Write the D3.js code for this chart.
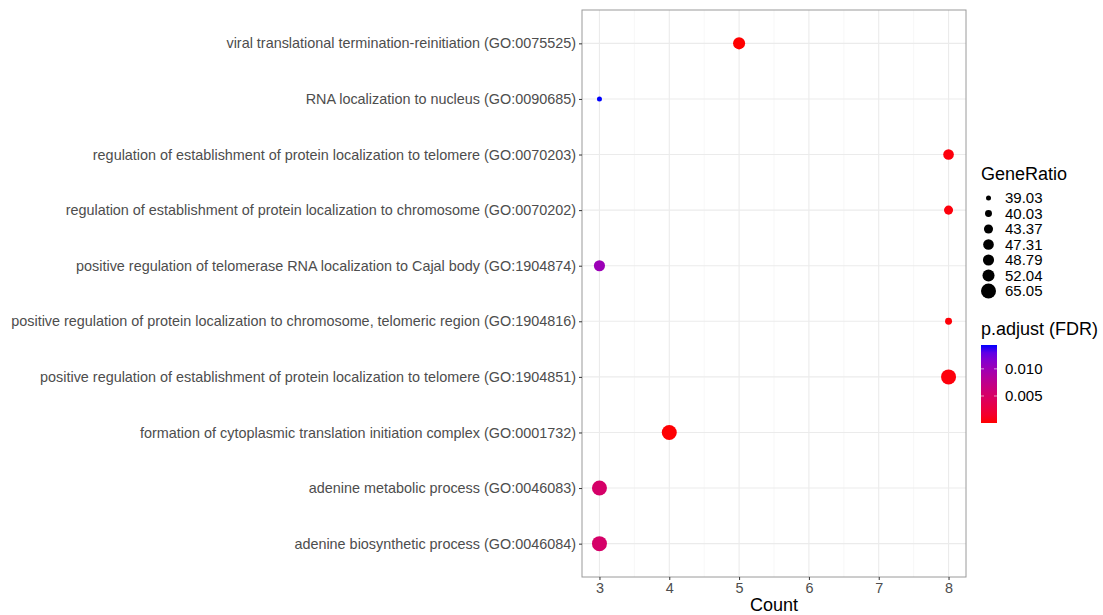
<!DOCTYPE html>
<html>
<head>
<meta charset="utf-8">
<script src="https://cdn.jsdelivr.net/npm/d3@7"></script>
<style>
body { margin: 0; background: #fff; }
text { font-family: "Liberation Sans", Arial, sans-serif; }
</style>
</head>
<body>
<div id="chart"></div>
<script>
// terms, top to bottom as drawn
var terms = [
  "viral translational termination-reinitiation (GO:0075525)",
  "RNA localization to nucleus (GO:0090685)",
  "regulation of establishment of protein localization to telomere (GO:0070203)",
  "regulation of establishment of protein localization to chromosome (GO:0070202)",
  "positive regulation of telomerase RNA localization to Cajal body (GO:1904874)",
  "positive regulation of protein localization to chromosome, telomeric region (GO:1904816)",
  "positive regulation of establishment of protein localization to telomere (GO:1904851)",
  "formation of cytoplasmic translation initiation complex (GO:0001732)",
  "adenine metabolic process (GO:0046083)",
  "adenine biosynthetic process (GO:0046084)"
];
var counts = [5, 3, 8, 8, 3, 8, 8, 4, 3, 3];
var geneRatio = [52.04, 39.03, 47.31, 43.37, 48.79, 40.03, 65.05, 65.05, 65.05, 65.05];
var padj = [0.00002, 0.0144, 0.0003, 0.0003, 0.0101, 0.0002, 0.0003, 0.0001, 0.0052, 0.0052];
var xTicks = [3, 4, 5, 6, 7, 8];
var sizeBreaks = [39.03, 40.03, 43.37, 47.31, 48.79, 52.04, 65.05];
var colorTicks = [0.005, 0.010];

var W = 1103, H = 615;
var svg = d3.select("#chart").append("svg")
  .attr("width", W).attr("height", H);

var panel = {left: 582, right: 966, top: 10, bottom: 577};

var x = d3.scaleLinear().domain([2.75, 8.25]).range([panel.left, panel.right]);
var y = d3.scalePoint().domain(terms).range([panel.top, panel.bottom]).padding(0.6);

var pMin = d3.min(padj), pMax = d3.max(padj);
var color = d3.scaleLinear().domain([pMin, pMax]).range(["red", "blue"])
  .interpolate(d3.interpolateLab);

// ggplot-like area scale, size -> pixel radius
var t = d3.scaleLinear().domain([d3.min(sizeBreaks), d3.max(sizeBreaks)]).range([0, 1]);
function radius(v) {
  var s = 1 + 5 * Math.sqrt(t(v));
  return (2.0 * s + 3) / 2;
}

var data = terms.map(function(d, i) {
  return {term: d, count: counts[i], ratio: geneRatio[i], p: padj[i]};
});

// grid
var g = svg.append("g");
var minor = d3.range(3.5, 8.5, 1).filter(function(v){ return v > 2.75 && v < 8.25; });
g.selectAll(".minor").data(minor).enter().append("line")
  .attr("x1", x).attr("x2", x).attr("y1", panel.top).attr("y2", panel.bottom)
  .attr("stroke", "#f2f2f2").attr("stroke-width", 0.6);
g.selectAll(".vmaj").data(xTicks).enter().append("line")
  .attr("x1", x).attr("x2", x).attr("y1", panel.top).attr("y2", panel.bottom)
  .attr("stroke", "#ebebeb").attr("stroke-width", 1.1);
g.selectAll(".hmaj").data(terms).enter().append("line")
  .attr("x1", panel.left).attr("x2", panel.right).attr("y1", y).attr("y2", y)
  .attr("stroke", "#ebebeb").attr("stroke-width", 1.1);

// points
svg.append("g").selectAll("circle").data(data).enter().append("circle")
  .attr("cx", function(d){ return x(d.count); })
  .attr("cy", function(d){ return y(d.term); })
  .attr("r", function(d){ return radius(d.ratio); })
  .attr("fill", function(d){ return color(d.p); });

// border
svg.append("rect")
  .attr("x", panel.left).attr("y", panel.top)
  .attr("width", panel.right - panel.left).attr("height", panel.bottom - panel.top)
  .attr("fill", "none").attr("stroke", "#9a9a9a").attr("stroke-width", 1);

// axes
var xAxis = svg.append("g").attr("transform", "translate(0," + panel.bottom + ")")
  .call(d3.axisBottom(x).tickValues(xTicks).tickFormat(d3.format("d")).tickSize(3).tickPadding(3));
var yAxis = svg.append("g").attr("transform", "translate(" + panel.left + ",0)")
  .call(d3.axisLeft(y).tickSize(3).tickPadding(3));
[xAxis, yAxis].forEach(function(a) {
  a.select(".domain").remove();
  a.selectAll(".tick line").attr("stroke", "#333");
  a.selectAll(".tick text").attr("fill", "#4d4d4d")
    .style("font-size", "14.4px").style("font-family", "Liberation Sans, Arial, sans-serif");
});

svg.append("text").attr("x", (panel.left + panel.right) / 2).attr("y", 611)
  .attr("text-anchor", "middle").style("font-size", "18px").text("Count");

// size legend
var lx = 981;
svg.append("text").attr("x", lx).attr("y", 180).style("font-size", "18px").text("GeneRatio");
var sl = svg.append("g").selectAll("g").data(sizeBreaks).enter().append("g")
  .attr("transform", function(d, i){ return "translate(0," + (198 + i * 15.5) + ")"; });
sl.append("circle").attr("cx", 988.5).attr("cy", 0).attr("r", radius).attr("fill", "#000");
sl.append("text").attr("x", 1005).attr("y", 5).style("font-size", "15px").text(function(d){ return d3.format(".2f")(d); });

// colour legend
svg.append("text").attr("x", lx).attr("y", 335).style("font-size", "18px").text("p.adjust (FDR)");
var cbTop = 345, cbBot = 423;
var cy = d3.scaleLinear().domain([pMin, pMax]).range([cbBot, cbTop]);
var defs = svg.append("defs");
var grad = defs.append("linearGradient").attr("id", "cb")
  .attr("x1", 0).attr("y1", 1).attr("x2", 0).attr("y2", 0);
d3.range(0, 1.0001, 0.1).forEach(function(s) {
  grad.append("stop").attr("offset", s)
    .attr("stop-color", color(pMin + s * (pMax - pMin)));
});
svg.append("rect").attr("x", lx).attr("y", cbTop).attr("width", 16).attr("height", cbBot - cbTop)
  .attr("fill", "url(#cb)");
var ct = svg.append("g").selectAll("g").data(colorTicks).enter().append("g")
  .attr("transform", function(d){ return "translate(0," + cy(d) + ")"; });
ct.append("line").attr("x1", lx).attr("x2", lx + 3).attr("stroke", "#fff").attr("stroke-opacity", 0.6);
ct.append("line").attr("x1", lx + 13).attr("x2", lx + 16).attr("stroke", "#fff").attr("stroke-opacity", 0.6);
ct.append("text").attr("x", 1005).attr("y", 5).style("font-size", "15px").text(function(d){ return d3.format(".3f")(d); });
</script>
</body>
</html>
